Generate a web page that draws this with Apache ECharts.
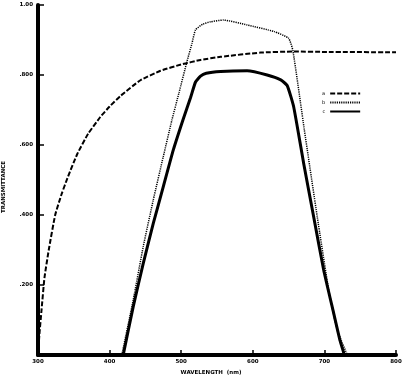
<!DOCTYPE html>
<html>
<head>
<meta charset="utf-8">
<script src="https://cdn.jsdelivr.net/npm/echarts@6/dist/echarts.min.js"></script>
<style>
  html, body { margin: 0; padding: 0; background: #fff; }
  #chart { width: 403px; height: 376px; }
</style>
</head>
<body>
<div id="chart"></div>
<script>
// curve a (dashed) - [wavelength nm, transmittance]
const seriesA = [
  [300, 0.0], [302, 0.06], [305, 0.13], [309, 0.22], [315, 0.30], [324, 0.40],
  [333, 0.46], [342, 0.51], [355, 0.575], [370, 0.632], [387, 0.68], [400, 0.71],
  [415, 0.74], [443, 0.785], [471, 0.812], [500, 0.83], [527, 0.843], [555, 0.852],
  [611, 0.864], [657, 0.867], [700, 0.866], [800, 0.865]
]
// curve b (dotted)
const seriesB = [
  [417, 0], [433, 0.157], [447, 0.31], [461, 0.443], [475, 0.567], [487, 0.671],
  [497, 0.75], [508, 0.838], [515, 0.89], [520, 0.929], [530, 0.945], [541, 0.952],
  [559, 0.957], [592, 0.943], [630, 0.924], [650, 0.905], [656, 0.87], [672, 0.643],
  [690, 0.395], [706, 0.186], [718, 0.071], [732, 0]
]
// curve c (solid)
const seriesC = [
  [419, 0], [433, 0.138], [447, 0.262], [461, 0.376], [475, 0.481], [489, 0.586],
  [503, 0.675], [513, 0.735], [520, 0.78], [527, 0.797], [535, 0.805], [555, 0.81],
  [592, 0.812], [620, 0.8], [639, 0.786], [648, 0.77], [657, 0.71], [671, 0.548],
  [685, 0.395], [699, 0.243], [713, 0.119], [722, 0.04], [728, 0]
]
const seriesNames = ['a', 'b', 'c']
const yTickLabels = ['', '.200', '.400', '.600', '.800', '1.00']
const xTickLabels = ['300', '400', '500', '600', '700', '800']

const chart = echarts.init(document.getElementById('chart'))
const font = 'DejaVu Sans'

const lineSeries = (name, data, width, type) => ({
  name,
  type: 'line',
  data,
  symbol: 'none',
  smooth: 0.15,
  lineStyle: { color: '#000', width, type },
  itemStyle: { color: '#000' }
})

chart.setOption({
  animation: false,
  backgroundColor: '#fff',
  grid: { left: 38, right: 7, top: 5, bottom: 21, outerBoundsMode: 'none' },
  legend: {
    orient: 'vertical',
    left: 317,
    top: 86,
    align: 'right',
    itemWidth: 30,
    itemHeight: 6,
    itemGap: 4,
    itemStyle: { opacity: 0 },
    textStyle: { fontFamily: font, fontSize: 5, color: '#000', padding: [0, 0, 0, 0] },
    data: seriesNames
  },
  xAxis: {
    type: 'value',
    min: 300,
    max: 800,
    interval: 100,
    name: 'WAVELENGTH  (nm)',
    nameLocation: 'middle',
    nameGap: 15,
    nameTextStyle: { fontFamily: font, fontSize: 5.5, fontWeight: 'bold', color: '#000', padding: [0, 12, 0, 0] },
    axisLine: { lineStyle: { color: '#000', width: 4 } },
    axisTick: { inside: true, length: 5, lineStyle: { color: '#000', width: 1.5 } },
    axisLabel: {
      margin: 4,
      fontFamily: font, fontSize: 5.5, fontWeight: 'bold', color: '#000',
      formatter: (v) => xTickLabels[Math.round((v - 300) / 100)] ?? ''
    },
    splitLine: { show: false }
  },
  yAxis: {
    type: 'value',
    min: 0,
    max: 1,
    interval: 0.2,
    name: 'TRANSMITTANCE',
    nameLocation: 'middle',
    nameGap: 31,
    nameTextStyle: { fontFamily: font, fontSize: 5.5, fontWeight: 'bold', color: '#000', padding: [0, 14, 0, 0] },
    axisLine: { show: true, lineStyle: { color: '#000', width: 4 } },
    axisTick: { show: true, inside: true, length: 6, lineStyle: { color: '#000', width: 1.5 } },
    axisLabel: {
      margin: 5,
      fontFamily: font, fontSize: 5.5, fontWeight: 'bold', color: '#000',
      formatter: (v) => yTickLabels[Math.round(v / 0.2)] ?? ''
    },
    splitLine: { show: false }
  },
  series: [
    lineSeries(seriesNames[0], seriesA, 2, [5, 2]),
    lineSeries(seriesNames[1], seriesB, 1.5, [1.2, 1]),
    lineSeries(seriesNames[2], seriesC, 3, 'solid')
  ]
})
</script>
</body>
</html>
